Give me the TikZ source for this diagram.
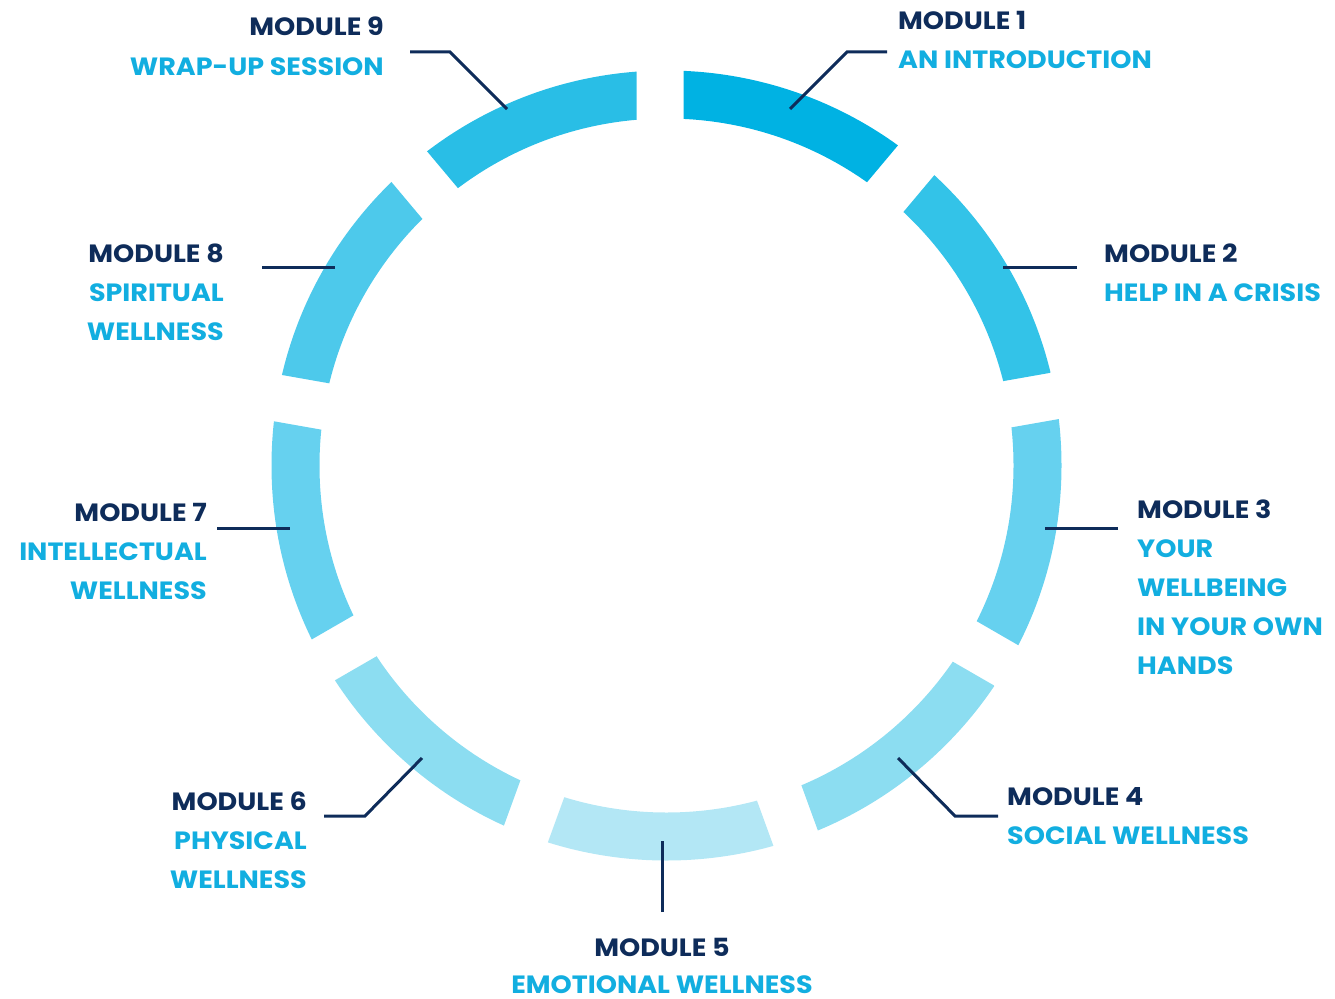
\documentclass[tikz,border=0pt]{standalone}
\usepackage{fontspec}
\setmainfont{Poppins}[FakeStretch=1.08]
\usetikzlibrary{calc}
\definecolor{navy}{HTML}{0E2C5A}
\definecolor{cyantext}{HTML}{12AEE0}
\definecolor{s1}{HTML}{00B2E3}
\definecolor{s2}{HTML}{33C3E8}
\definecolor{s3}{HTML}{66D1EF}
\definecolor{s4}{HTML}{8CDDF1}
\definecolor{s5}{HTML}{B3E7F5}
\definecolor{s6}{HTML}{8CDDF1}
\definecolor{s7}{HTML}{66D1EF}
\definecolor{s8}{HTML}{4DC9EB}
\definecolor{s9}{HTML}{29BEE6}
\begin{document}
\begin{tikzpicture}[x=1pt,y=1pt,
  title/.style={font=\bfseries\fontsize{25}{39}\selectfont,text=navy,inner sep=0pt,text depth=0pt},
  sub/.style={font=\bfseries\fontsize{25}{39}\selectfont,text=cyantext,inner sep=0pt,text depth=0pt},
  leader/.style={draw=navy,line width=3pt}]
\useasboundingbox (0,0) rectangle (1335,-998);
% ring centre and the point the gap strips run through
\coordinate (C) at (666.5,-465.5);
\coordinate (P) at (660,-465.5);
% nine ring segments, separated by parallel-sided gaps 47pt wide
\foreach \k/\col in {1/s1,2/s2,3/s3,4/s4,5/s5,6/s6,7/s7,8/s8,9/s9}{
  \pgfmathsetmacro\a{90-40*(\k-1)}
  \pgfmathsetmacro\b{\a-40}
  \pgfmathsetmacro\m{\a-20}
  \begin{scope}
    \clip ($(P)+(\m:68.71)$) -- ($(P)+(\a-90:23.5)+(\a:600)$)
      -- ($(P)+(\m:700)$) -- ($(P)+(\b+90:23.5)+(\b:600)$) -- cycle;
    \fill[\col,even odd rule] (C) circle (395) (C) circle (347);
  \end{scope}
}
% leader end points
\coordinate (l9a) at (410,-52);  \coordinate (l9b) at (450,-52);  \coordinate (l9c) at (507,-109);
\coordinate (l1a) at (887,-52);  \coordinate (l1b) at (847,-52);  \coordinate (l1c) at (790,-109);
\coordinate (l2a) at (1077,-267); \coordinate (l2c) at (1003,-267);
\coordinate (l8a) at (262,-267);  \coordinate (l8c) at (335,-267);
\coordinate (l3a) at (1118,-528); \coordinate (l3c) at (1045,-528);
\coordinate (l7a) at (217,-528);  \coordinate (l7c) at (290,-528);
\coordinate (l4a) at (998,-816);  \coordinate (l4b) at (955,-816); \coordinate (l4c) at (898,-758);
\coordinate (l6a) at (324,-816);  \coordinate (l6b) at (365,-816); \coordinate (l6c) at (422,-758);
\coordinate (l5a) at (662,-912);  \coordinate (l5c) at (662,-841);
\draw[leader] (l9a) -- (l9b) -- (l9c);
\draw[leader] (l1a) -- (l1b) -- (l1c);
\draw[leader] (l2a) -- (l2c);
\draw[leader] (l8a) -- (l8c);
\draw[leader] (l3a) -- (l3c);
\draw[leader] (l7a) -- (l7c);
\draw[leader] (l4a) -- (l4b) -- (l4c);
\draw[leader] (l6a) -- (l6b) -- (l6c);
\draw[leader] (l5a) -- (l5c);
% labels
\node[title,anchor=base west] (m1a) at (898,-30) {MODULE 1};
\node[sub,anchor=base west] (m1b) at (898,-69) {AN INTRODUCTION};
\node[title,anchor=base west] (m2a) at (1104,-262) {MODULE 2};
\node[sub,anchor=base west] (m2b) at (1104,-301) {HELP IN A CRISIS};
\node[title,anchor=base west] (m3a) at (1137,-518) {MODULE 3};
\node[sub,anchor=base west] (m3b) at (1137,-557) {YOUR};
\node[sub,anchor=base west] (m3c) at (1137,-596) {WELLBEING};
\node[sub,anchor=base west] (m3d) at (1137,-635) {IN YOUR OWN};
\node[sub,anchor=base west] (m3e) at (1137,-674) {HANDS};
\node[title,anchor=base west] (m4a) at (1007,-805) {MODULE 4};
\node[sub,anchor=base west] (m4b) at (1007,-844) {SOCIAL WELLNESS};
\node[title,anchor=base] (m5a) at (662,-956) {MODULE 5};
\node[sub,anchor=base] (m5b) at (662,-993) {EMOTIONAL WELLNESS};
\node[title,anchor=base east] (m6a) at (307,-810) {MODULE 6};
\node[sub,anchor=base east] (m6b) at (307,-849) {PHYSICAL};
\node[sub,anchor=base east] (m6c) at (307,-888) {WELLNESS};
\node[title,anchor=base east] (m7a) at (207,-521) {MODULE 7};
\node[sub,anchor=base east] (m7b) at (207,-560) {INTELLECTUAL};
\node[sub,anchor=base east] (m7c) at (207,-599) {WELLNESS};
\node[title,anchor=base east] (m8a) at (224,-262) {MODULE 8};
\node[sub,anchor=base east] (m8b) at (224,-301) {SPIRITUAL};
\node[sub,anchor=base east] (m8c) at (224,-340) {WELLNESS};
\node[title,anchor=base east] (m9a) at (384,-36) {MODULE 9};
\node[sub,anchor=base east] (m9b) at (384,-75) {WRAP-UP SESSION};
\end{tikzpicture}
\end{document}
